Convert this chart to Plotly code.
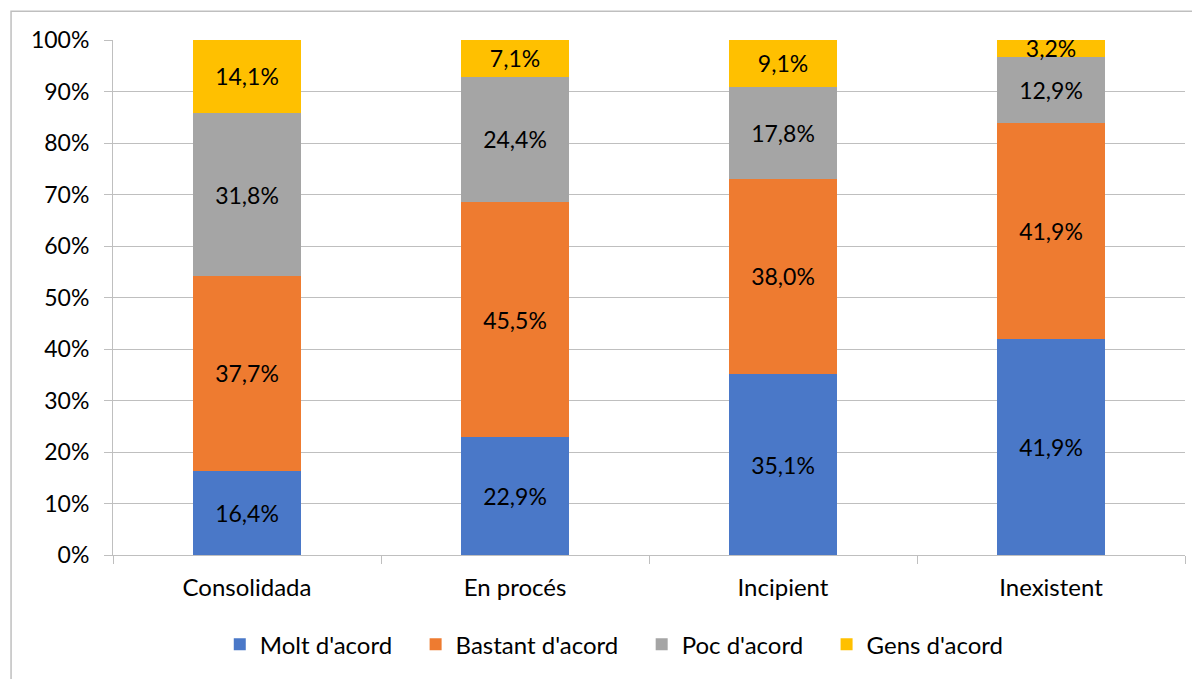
import plotly.graph_objects as go

# chart data
categories = ["Consolidada", "En procés", "Incipient", "Inexistent"]
series_names = ["Molt d'acord", "Bastant d'acord", "Poc d'acord", "Gens d'acord"]
molt = [16.4, 22.9, 35.1, 41.9]
bastant = [37.7, 45.5, 38.0, 41.9]
poc = [31.8, 24.4, 17.8, 12.9]
gens = [14.1, 7.1, 9.1, 3.2]
y_ticks = [0, 10, 20, 30, 40, 50, 60, 70, 80, 90, 100]
y_labels = [f"{t}%" for t in y_ticks]

colors = ["#4A78C8", "#EE7B30", "#A5A5A5", "#FFC000"]
FONT = "Lato, Carlito, Calibri, sans-serif"
FS = 23
GRID = "#BFBFBF"
PAD = "\u00a0" * 3  # a little extra room between legend entries


def fmt(v):
    return f"{v:.1f}%".replace(".", ",")


fig = go.Figure()
for name, vals, col in zip(series_names, [molt, bastant, poc, gens], colors):
    fig.add_trace(go.Bar(
        x=categories,
        y=vals,
        name=name + PAD,
        marker=dict(color=col, line=dict(width=0)),
        text=[fmt(v) for v in vals],
        textposition="inside",
        insidetextanchor="middle",
        textangle=0,
        textfont=dict(family=FONT, size=FS, color="#000000"),
        width=0.4,
    ))

# page body has an 8px margin, so the figure is a bit smaller than the window
fig.update_layout(
    barmode="stack",
    barnorm="percent",
    width=1192,
    height=671,
    margin=dict(l=105, r=15, t=32, b=115),
    plot_bgcolor="white",
    paper_bgcolor="white",
    font=dict(family=FONT, size=FS, color="#000000"),
    uniformtext=dict(mode="show", minsize=FS),
    showlegend=True,
    legend=dict(
        orientation="h",
        x=0.476, xanchor="center",
        y=-0.174, yanchor="middle",
        font=dict(family=FONT, size=24),
        traceorder="normal",
        itemwidth=30,
    ),
    shapes=[dict(
        type="rect", xref="paper", yref="paper",
        x0=-0.0951, x1=1.2, y0=-0.5, y1=1.056,
        line=dict(color="#BFBFBF", width=1.5),
        fillcolor="rgba(0,0,0,0)", layer="below",
    )],
)

fig.update_yaxes(
    range=[0, 100],
    tickvals=y_ticks,
    ticktext=y_labels,
    showgrid=True, gridcolor=GRID, gridwidth=1,
    showline=True, linecolor=GRID, linewidth=1,
    ticks="outside", ticklen=8, tickcolor=GRID,
    ticklabelstandoff=10,
    zeroline=False,
    tickfont=dict(family=FONT, size=FS),
)
fig.update_xaxes(
    showline=True, linecolor=GRID, linewidth=1,
    ticks="outside", ticklen=8, tickcolor=GRID,
    tickson="boundaries",
    ticklabelstandoff=11,
    tickfont=dict(family=FONT, size=24),
)

fig.write_html("out.html")
